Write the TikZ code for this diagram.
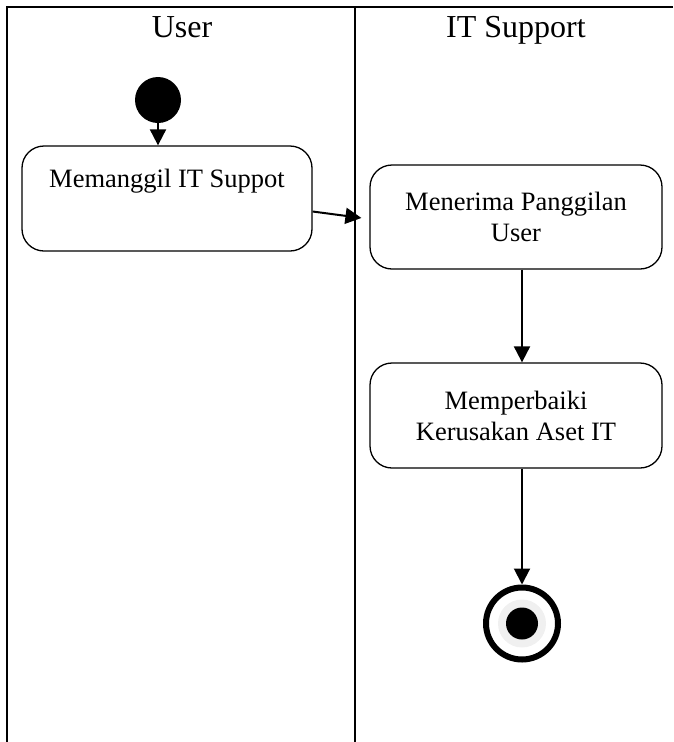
\documentclass[tikz,border=0pt]{standalone}
\usepackage{fontspec}
\setmainfont{Liberation Serif}
\usetikzlibrary{arrows.meta,positioning}

\tikzset{
  aktivitas/.style={draw, rounded corners=22pt, line width=1.3pt, align=center,
    inner sep=0pt, font=\fontsize{26.5}{31}\selectfont},
  alur/.style={line width=2pt, -{Triangle[length=16pt,width=16pt]}},
  lajur/.style={line width=2pt},
  judul/.style={anchor=base, font=\fontsize{32}{38}\selectfont},
}

\begin{document}
\begin{tikzpicture}[x=1pt, y=-1pt]
\useasboundingbox (0,0) rectangle (673,742);

% --- Lajur (swimlane) ---
\coordinate (lajur_kiri) at (7,6.5);
\coordinate (lajur_tengah) at (355,6.5);
\coordinate (lajur_kanan) at (673,6.5);
\draw[lajur] (lajur_kanan) -- (lajur_kiri) -- (lajur_kiri |- 0,742);
\draw[lajur] (lajur_tengah) -- (lajur_tengah |- 0,742);

\node[judul] (j_user) at (182,37) {User};
\node[judul] (j_it) at (516,37) {IT Support};

% --- Lajur User ---
\node[circle, fill, minimum size=46pt, inner sep=0pt] (mulai) at (158,100) {};
\node[aktivitas, minimum width=290pt, minimum height=105pt] (panggil) at (167,198.5)
  {Memanggil IT Suppot\\ \strut};
\draw[alur] (mulai) -- (mulai |- panggil.north);

% --- Lajur IT Support ---
\node[aktivitas, minimum width=292pt, minimum height=104pt] (terima) at (516,217)
  {Menerima Panggilan\\User};
\node[aktivitas, minimum width=292pt, minimum height=105pt] (perbaiki) at (516,415.5)
  {Memperbaiki\\Kerusakan Aset IT};

% Akhir
\node[circle, draw, line width=6pt, minimum size=72pt, inner sep=0pt] (selesai) at (522,623.5) {};
\fill[black!6] (selesai) circle (24pt);
\fill (selesai) circle (16pt);

% Alur antar aktivitas
\draw[alur, shorten >=8pt] ([yshift=-13pt]panggil.east) -- ([yshift=-2pt]terima.west);
\draw[alur] ([xshift=6pt]terima.south) -- ([xshift=6pt]perbaiki.north);
\draw[alur] (perbaiki.south -| selesai) -- (selesai.north);

\end{tikzpicture}
\end{document}
